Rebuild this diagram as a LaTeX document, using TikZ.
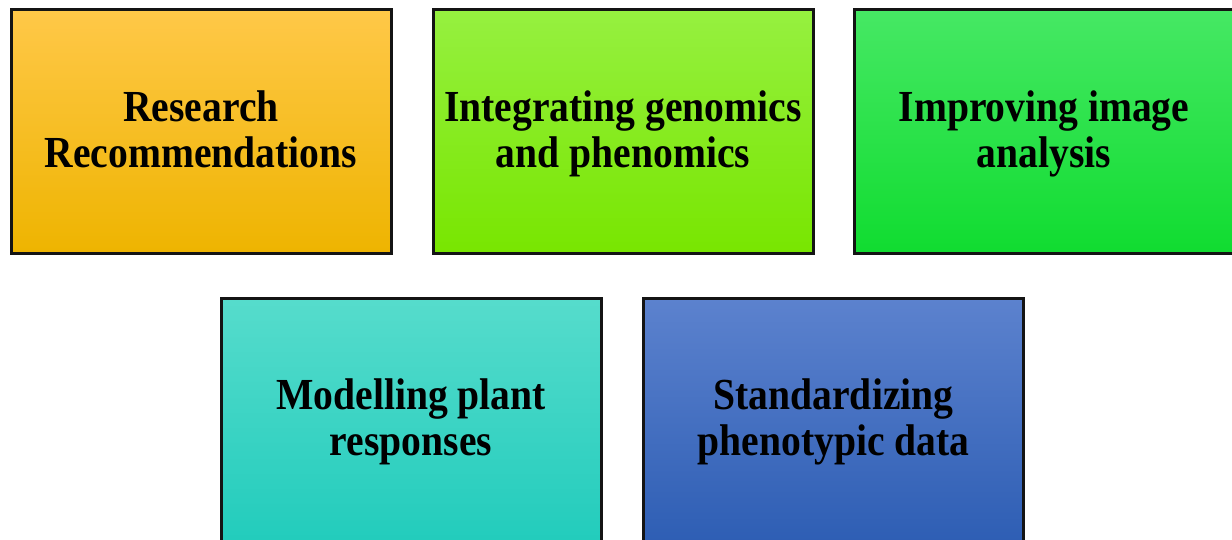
\documentclass[tikz,border=0pt]{standalone}
\usepackage{fontspec}
\setmainfont{Liberation Serif}
\usetikzlibrary{shadows}
% two-line label, set slightly tall and narrow, lowered a little within its card
\newcommand{\cardlabel}[1]{\raisebox{-3.5pt}[\height][\depth]{\scalebox{1}[1.12]{\begin{tabular}{@{}c@{}}#1\end{tabular}}}}
\begin{document}
\begin{tikzpicture}[x=1pt,y=-1pt,
  card/.style={draw=black!92, line width=3pt, minimum width=380pt, minimum height=244pt,
    anchor=north west, inner sep=0pt, align=center,
    font=\fontsize{39.6}{41}\selectfont\bfseries, text=black,
    drop shadow={shadow xshift=1.5pt, shadow yshift=-1.5pt, fill=black, opacity=0.35}}]
  \useasboundingbox (0,0) rectangle (1232,540);
  \fill[white] (0,0) rectangle (1232,540);
  \node[card, top color={rgb,255:red,255;green,200;blue,72}, bottom color={rgb,255:red,238;green,180;blue,0}]
    (rr) at (9.5,8.5) {\cardlabel{Research\\Recommendations}};
  \node[card, top color={rgb,255:red,150;green,240;blue,64}, bottom color={rgb,255:red,120;green,230;blue,0}]
    (ig) at (431.5,8.5) {\cardlabel{Integrating genomics\\and phenomics}};
  \node[card, top color={rgb,255:red,70;green,232;blue,100}, bottom color={rgb,255:red,16;green,220;blue,48}]
    (ia) at (852.5,8.5) {\cardlabel{Improving image\\analysis}};
  \node[card, top color={rgb,255:red,86;green,220;blue,204}, bottom color={rgb,255:red,34;green,204;blue,188}]
    (mp) at (219.5,296.5) {\cardlabel{Modelling plant\\responses}};
  \node[card, top color={rgb,255:red,92;green,130;blue,206}, bottom color={rgb,255:red,46;green,94;blue,180}]
    (sp) at (642,296.5) {\cardlabel{Standardizing\\phenotypic data}};
\end{tikzpicture}
\end{document}
